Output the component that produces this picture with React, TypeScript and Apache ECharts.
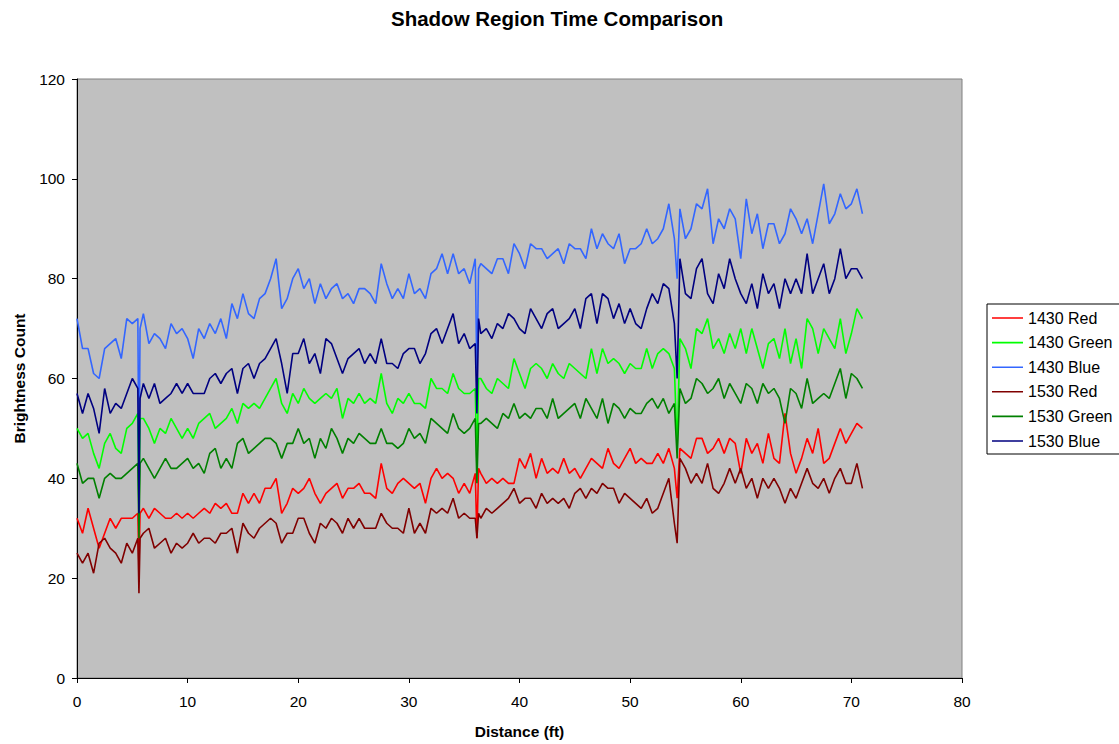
import React, { useEffect, useRef } from "react";
import * as echarts from "echarts";

// Distance along the transect (ft); extra samples bracket the three shadow dips
const distances = [
  0, 0.5, 1, 1.5, 2, 2.5, 3, 3.5, 4, 4.5,
  5, 5.5, 5.6, 5.7, 6, 6.5, 7, 7.5, 8, 8.5, 9, 9.5,
  10, 10.5, 11, 11.5, 12, 12.5, 13, 13.5, 14, 14.5,
  15, 15.5, 16, 16.5, 17, 17.5, 18, 18.5, 19, 19.5,
  20, 20.5, 21, 21.5, 22, 22.5, 23, 23.5, 24, 24.5,
  25, 25.5, 26, 26.5, 27, 27.5, 28, 28.5, 29, 29.5,
  30, 30.5, 31, 31.5, 32, 32.5, 33, 33.5, 34, 34.5,
  35, 35.5, 36, 36.15, 36.3, 36.5, 37, 37.5, 38, 38.5, 39, 39.5,
  40, 40.5, 41, 41.5, 42, 42.5, 43, 43.5, 44, 44.5,
  45, 45.5, 46, 46.5, 47, 47.5, 48, 48.5, 49, 49.5,
  50, 50.5, 51, 51.5, 52, 52.5, 53, 53.5, 54, 54.25, 54.5,
  55, 55.5, 56, 56.5, 57, 57.5, 58, 58.5, 59, 59.5,
  60, 60.5, 61, 61.5, 62, 62.5, 63, 63.5, 64, 64.5,
  65, 65.5, 66, 66.5, 67, 67.5, 68, 68.5, 69, 69.5,
  70, 70.5, 71,
];

const red1430 = [
  32, 29, 34, 30, 26, 29, 32, 30, 32, 32,
  32, 33, 22, 33, 34, 32, 34, 33, 32, 32, 33, 32,
  33, 32, 33, 34, 33, 35, 34, 35, 33, 33,
  37, 35, 37, 35, 38, 38, 40, 33, 35, 38,
  37, 38, 40, 37, 35, 37, 38, 39, 36, 38,
  38, 39, 37, 37, 36, 43, 38, 37, 39, 40,
  39, 38, 39, 35, 40, 42, 40, 41, 40, 37,
  39, 37, 41, 28, 42, 41, 39, 40, 39, 40, 39, 39,
  44, 42, 45, 40, 44, 41, 42, 41, 44, 41,
  42, 40, 42, 44, 43, 42, 46, 43, 42, 44,
  46, 43, 44, 43, 43, 45, 43, 46, 42, 36, 46,
  45, 44, 48, 48, 45, 46, 48, 45, 48, 47,
  41, 48, 45, 47, 43, 49, 44, 43, 53, 45,
  41, 44, 48, 45, 50, 43, 44, 47, 50, 47,
  49, 51, 50,
];

const green1430 = [
  50, 48, 49, 45, 42, 47, 49, 46, 45, 50,
  51, 53, 32, 52, 52, 50, 47, 50, 49, 52, 50, 48,
  50, 48, 51, 52, 53, 50, 51, 52, 54, 51,
  55, 54, 55, 54, 56, 58, 60, 55, 53, 57,
  55, 58, 56, 55, 56, 57, 56, 58, 52, 56,
  55, 57, 55, 56, 55, 61, 55, 53, 56, 55,
  57, 55, 55, 54, 60, 58, 58, 57, 61, 58,
  57, 57, 58, 42, 60, 60, 58, 57, 60, 59, 58, 64,
  61, 58, 62, 63, 62, 60, 63, 61, 60, 63,
  62, 61, 60, 66, 61, 66, 63, 64, 63, 61,
  63, 62, 62, 66, 62, 65, 66, 65, 62, 46, 68,
  66, 62, 70, 69, 72, 66, 68, 65, 69, 66,
  70, 65, 70, 66, 62, 67, 68, 64, 70, 63,
  68, 62, 72, 70, 65, 70, 68, 66, 72, 65,
  69, 74, 72,
];

const blue1430 = [
  72, 66, 66, 61, 60, 66, 67, 68, 64, 72,
  71, 72, 40, 70, 73, 67, 69, 68, 66, 71, 69, 70,
  68, 64, 70, 68, 71, 69, 72, 68, 75, 72,
  77, 73, 72, 76, 77, 80, 84, 74, 76, 80,
  82, 78, 80, 75, 79, 76, 78, 79, 76, 77,
  75, 78, 78, 77, 75, 83, 79, 76, 78, 76,
  81, 77, 78, 76, 81, 82, 85, 81, 85, 81,
  82, 79, 84, 60, 82, 83, 82, 81, 84, 84, 81, 87,
  85, 82, 87, 86, 86, 84, 85, 86, 83, 87,
  86, 86, 84, 90, 86, 89, 87, 86, 89, 83,
  86, 86, 87, 90, 87, 88, 90, 95, 88, 80, 94,
  88, 90, 95, 94, 98, 87, 92, 90, 94, 92,
  84, 96, 89, 93, 86, 91, 91, 87, 89, 94,
  92, 89, 92, 87, 93, 99, 91, 93, 97, 94,
  95, 98, 93,
];

const red1530 = [
  25, 23, 25, 21, 27, 28, 26, 25, 23, 27,
  25, 28, 17, 28, 29, 30, 26, 27, 28, 25, 27, 26,
  27, 29, 27, 28, 28, 27, 29, 29, 30, 25,
  31, 29, 28, 30, 31, 32, 31, 27, 29, 29,
  32, 32, 29, 27, 31, 30, 32, 31, 29, 32,
  30, 32, 30, 30, 30, 33, 31, 30, 30, 29,
  34, 29, 31, 29, 34, 33, 34, 33, 36, 32,
  33, 32, 32, 28, 33, 32, 34, 33, 34, 35, 36, 38,
  35, 36, 36, 34, 37, 35, 36, 35, 36, 34,
  37, 38, 36, 38, 37, 39, 38, 38, 35, 37,
  36, 35, 34, 36, 33, 34, 37, 40, 31, 27, 44,
  42, 39, 41, 39, 43, 38, 37, 39, 42, 39,
  42, 38, 40, 36, 40, 38, 40, 38, 35, 38,
  36, 39, 42, 39, 38, 40, 37, 40, 42, 39,
  39, 43, 38,
];

const green1530 = [
  43, 39, 40, 40, 36, 40, 41, 40, 40, 41,
  42, 43, 28, 43, 44, 42, 40, 42, 44, 42, 42, 43,
  44, 42, 43, 41, 45, 46, 42, 44, 42, 47,
  48, 45, 46, 47, 48, 48, 47, 44, 47, 47,
  50, 47, 48, 44, 48, 46, 50, 48, 45, 48,
  47, 49, 48, 47, 47, 50, 47, 47, 46, 47,
  50, 48, 49, 47, 52, 51, 50, 49, 53, 50,
  49, 50, 52, 39, 51, 51, 52, 51, 50, 53, 52, 55,
  52, 53, 52, 54, 54, 52, 56, 52, 53, 54,
  55, 52, 56, 54, 52, 56, 51, 55, 54, 52,
  54, 53, 53, 55, 56, 54, 56, 53, 55, 44, 58,
  55, 56, 60, 59, 57, 58, 60, 56, 59, 57,
  55, 59, 58, 55, 59, 57, 58, 56, 51, 58,
  57, 54, 60, 55, 56, 57, 56, 59, 62, 56,
  61, 60, 58,
];

const blue1530 = [
  57, 53, 57, 54, 49, 58, 53, 55, 54, 57,
  60, 58, 33, 56, 59, 56, 59, 55, 56, 57, 59, 57,
  59, 57, 57, 57, 60, 61, 59, 61, 62, 57,
  62, 63, 60, 63, 64, 66, 68, 63, 57, 65,
  65, 68, 63, 65, 61, 68, 67, 64, 61, 64,
  65, 66, 63, 65, 63, 68, 63, 63, 62, 65,
  66, 66, 63, 65, 69, 70, 67, 70, 73, 67,
  69, 66, 67, 53, 72, 69, 70, 68, 71, 70, 73, 72,
  70, 69, 74, 72, 70, 73, 74, 70, 71, 72,
  74, 70, 76, 77, 71, 77, 76, 72, 75, 71,
  74, 71, 70, 74, 77, 75, 79, 78, 71, 60, 84,
  77, 76, 82, 84, 77, 75, 81, 78, 84, 80,
  77, 75, 79, 74, 81, 77, 79, 74, 80, 77,
  80, 77, 85, 77, 80, 83, 77, 80, 86, 80,
  82, 82, 80,
];

const seriesNames = ["1430 Red", "1430 Green", "1430 Blue", "1530 Red", "1530 Green", "1530 Blue"];
const seriesValues = [red1430, green1430, blue1430, red1530, green1530, blue1530];
const seriesColors = ["#FF0000", "#00FF00", "#3366FF", "#800000", "#008000", "#000080"];

const FONT = "'Liberation Sans', Arial, Helvetica, sans-serif";

// Legend key: a thin horizontal bar centred in a 31x16 box (tiny slivers fix the bounding box)
const LEGEND_LINE_ICON =
  "path://M0,0L31,0L31,0.01L0,0.01Z M0,7.2L31,7.2L31,8.8L0,8.8Z M0,15.99L31,15.99L31,16L0,16Z";

export default function App() {
  const ref = useRef<HTMLDivElement>(null);

  useEffect(() => {
    if (!ref.current) return;
    const chart = echarts.init(ref.current, undefined, { renderer: "svg" });
    const series = seriesNames.map((name, k) => ({
      name,
      type: "line",
      symbol: "none",
      data: distances.map((x, i) => [x, seriesValues[k][i]]),
      lineStyle: { width: 1.6, color: seriesColors[k] },
      itemStyle: { color: seriesColors[k] },
      emphasis: { disabled: true },
    }));
    chart.setOption({
      animation: false,
      backgroundColor: "#FFFFFF",
      textStyle: { fontFamily: FONT },
      title: {
        text: "Shadow Region Time Comparison",
        left: 386,
        top: 3,
        textStyle: { fontSize: 20.5, fontWeight: "bold", color: "#000", fontFamily: FONT },
      },
      grid: {
        left: 77,
        top: 79,
        right: 157,
        bottom: 65,
        show: true,
        backgroundColor: "#C0C0C0",
        borderColor: "#808080",
        borderWidth: 1,
      },
      legend: {
        orient: "vertical",
        left: 987,
        top: 304,
        padding: [6, 8, 5, 5],
        itemWidth: 31,
        itemHeight: 16,
        itemGap: 8.6,
        icon: LEGEND_LINE_ICON,
        backgroundColor: "#FFFFFF",
        borderColor: "#000",
        borderWidth: 1,
        textStyle: { fontSize: 16, color: "#000", fontFamily: FONT },
        data: seriesNames,
      },
      xAxis: {
        type: "value",
        min: 0,
        max: 80,
        interval: 10,
        name: "Distance (ft)",
        nameLocation: "middle",
        nameGap: 45,
        nameTextStyle: { fontSize: 15.5, fontWeight: "bold", color: "#000", fontFamily: FONT },
        axisLine: { show: true, onZero: false, lineStyle: { color: "#000", width: 1 } },
        axisTick: { show: true, length: 5, lineStyle: { color: "#000" } },
        splitLine: { show: false },
        axisLabel: { fontSize: 15.5, color: "#000", margin: 15, fontFamily: FONT },
      },
      yAxis: {
        type: "value",
        min: 0,
        max: 120,
        interval: 20,
        name: "Brightness Count",
        nameLocation: "middle",
        nameGap: 50,
        nameRotate: 90,
        nameTextStyle: { fontSize: 15.5, fontWeight: "bold", color: "#000", fontFamily: FONT },
        axisLine: { show: true, onZero: false, lineStyle: { color: "#000", width: 1 } },
        axisTick: { show: true, length: 5, lineStyle: { color: "#000" } },
        splitLine: { show: false },
        axisLabel: { fontSize: 15.5, color: "#000", margin: 12, fontFamily: FONT },
      },
      series,
    });
    return () => chart.dispose();
  }, []);

  return (
    <div
      ref={ref}
      style={{ position: "absolute", left: 0, top: 0, width: 1119, height: 744, background: "#fff" }}
    />
  );
}
